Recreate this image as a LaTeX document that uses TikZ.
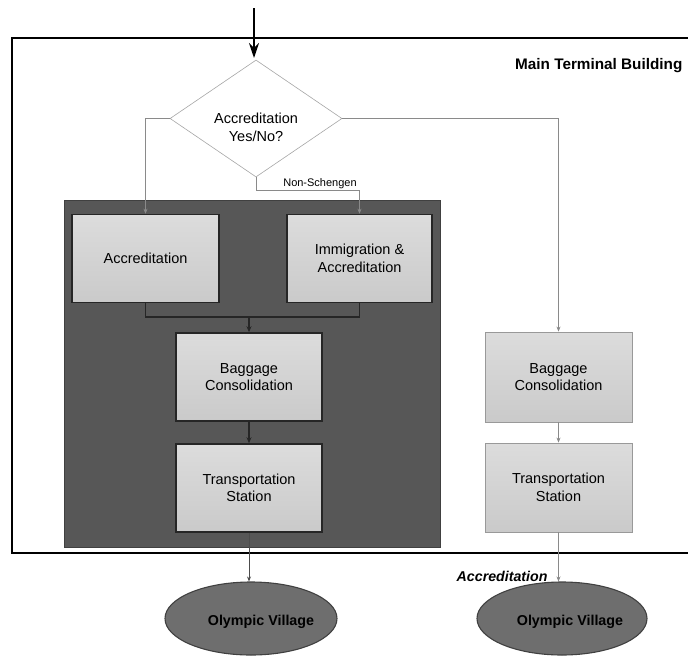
\documentclass[tikz,border=0pt]{standalone}
\usepackage{fontspec}
\setmainfont{Liberation Sans}
\usetikzlibrary{shapes.geometric,arrows.meta}
\definecolor{boxgray}{HTML}{DCDCDC}
\definecolor{boxgrayb}{HTML}{CACACA}
\definecolor{zonegray}{HTML}{575757}
\definecolor{ovalgray}{HTML}{6E6E6E}
\definecolor{thinline}{HTML}{8A8A8A}
\tikzset{
  txt/.style={font=\fontsize{14.5}{17.5}\selectfont, align=center},
  procbox/.style={rectangle, txt, top color=boxgray, bottom color=boxgrayb,
    minimum width=146pt, minimum height=88pt, inner sep=2pt},
  darkbox/.style={procbox, draw=black!85, line width=1.6pt},
  lightbox/.style={procbox, draw=gray!80, line width=0.9pt},
  decision/.style={diamond, draw=gray!70, line width=0.6pt, fill=white,
    minimum width=172pt, minimum height=117pt, inner sep=0pt},
  village/.style={ellipse, draw=black!75, line width=1.1pt, fill=ovalgray,
    minimum width=172pt, minimum height=73pt},
  villagetxt/.style={font=\bfseries\fontsize{14.3}{17}\selectfont},
  thinflow/.style={draw=thinline, line width=0.6pt, -{Stealth[length=5pt,width=4pt]}},
  thinseg/.style={draw=thinline, line width=0.6pt},
  darkflow/.style={draw=black!85, line width=1.3pt, -{Stealth[length=6pt,width=5pt]}},
  darkseg/.style={draw=black!85, line width=1.3pt},
}
\begin{document}
\begin{tikzpicture}[x=1pt, y=-1pt]
\useasboundingbox (0,0) rectangle (688,656);

% terminal building frame (continues past the right edge)
\draw[line width=2pt] (720,38) -- (12,38) -- (12,553) -- (720,553);
\node[anchor=west, inner sep=1pt, font=\bfseries\fontsize{15.3}{18}\selectfont] (mtb) at (514,66) {Main Terminal Building};

% shaded zone holding the left-hand stream
\fill[zonegray] (64,200) rectangle (440,547);
\draw[black!75, line width=0.9pt] (64,200) rectangle (440,547);

% decision
\node[decision] (dia) at (256,118.5) {};
\node[txt] (diatxt) at (256,127.5) {Accreditation\\Yes/No?};

% process boxes
\node[darkbox, minimum width=147pt] (acc) at (145.5,258.5) {Accreditation};
\node[darkbox, minimum width=145pt] (imm) at (359.5,258.5) {Immigration \&\\Accreditation};
\node[darkbox] (bag1) at (249,377) {Baggage\\Consolidation};
\node[darkbox] (tra1) at (249,488) {Transportation\\Station};
\node[lightbox, minimum width=147pt, minimum height=90pt] (bag2) at (558.5,377) {Baggage\\Consolidation};
\node[lightbox, minimum width=147pt, minimum height=89pt] (tra2) at (558.5,487.5) {Transportation\\Station};

% villages
\node[village] (ov1) at (251,618.5) {};
\node[village, minimum width=170pt] (ov2) at (562,618.5) {};
\node[villagetxt] (ov1txt) at (261,622) {Olympic Village};
\node[villagetxt] (ov2txt) at (570,622) {Olympic Village};

% entry arrow
\coordinate (entry) at (254,8);
\draw[line width=1.8pt, -{Stealth[length=15pt,width=10pt]}] (entry) -- (254,58);

% branches leaving the decision
\draw[thinflow] (dia.west) -| (acc.north);
\coordinate (nsturn) at (256,190);
\draw[thinseg] (dia.south) -- (nsturn);
\draw[thinflow] (nsturn) -| (imm.north);
\node[font=\fontsize{11}{12}\selectfont, anchor=south, inner sep=1.5pt] (nslab) at (320,190) {Non-Schengen};
\draw[thinflow] (dia.east) -| (bag2.north);

% left stream
\coordinate (join) at (249,317);
\draw[darkseg] (acc.south) |- (join) -| (imm.south);
\draw[darkflow] (join) -- (bag1.north);
\draw[darkflow] (bag1.south) -- (tra1.north);
\draw[draw=black!70, line width=0.7pt, -{Stealth[length=5pt,width=4pt]}] (tra1.south) -- (ov1.north -| tra1.south);

% right stream
\draw[thinflow] (bag2.south) -- (tra2.north);
\draw[thinflow] (tra2.south) -- (ov2.north -| tra2.south);
\node[anchor=east, font=\bfseries\itshape\fontsize{14.2}{16}\selectfont] (acclab) at (551,576) {Accreditation};
\end{tikzpicture}
\end{document}
